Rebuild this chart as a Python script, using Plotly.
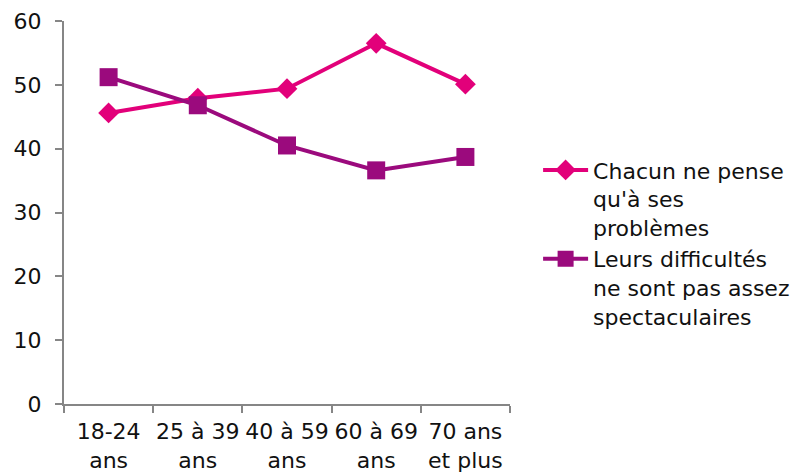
import plotly.graph_objects as go

categories = ["18-24<br>ans", "25 à 39<br>ans", "40 à 59<br>ans", "60 à 69<br>ans", "70 ans<br>et plus"]
chacun_values = [45.6, 47.9, 49.4, 56.5, 50.1]
difficultes_values = [51.2, 46.8, 40.5, 36.6, 38.7]

name_chacun = "Chacun ne pense<br>qu'à ses<br>problèmes"
name_difficultes = "Leurs difficultés<br>ne sont pas assez<br>spectaculaires"

pink = "#E2007A"
purple = "#9B0A7D"
axis_grey = "#868686"

fig = go.Figure()
fig.add_trace(go.Scatter(
    x=categories,
    y=chacun_values,
    name=name_chacun,
    mode="lines+markers",
    line=dict(color=pink, width=4),
    marker=dict(symbol="diamond", size=16, color=pink)
))
fig.add_trace(go.Scatter(
    x=categories,
    y=difficultes_values,
    name=name_difficultes,
    mode="lines+markers",
    line=dict(color=purple, width=4),
    marker=dict(symbol="square", size=18, color=purple)
))

# page body adds an 8px offset, margins are set relative to that
fig.update_layout(
    width=803, height=474,
    margin=dict(l=56, r=301, t=13, b=78, autoexpand=False),
    paper_bgcolor="white", plot_bgcolor="white",
    font=dict(family="DejaVu Sans", size=22, color="#111111"),
    legend=dict(
        x=1.063, y=0.42, xanchor="left", yanchor="middle",
        font=dict(size=22), tracegroupgap=25, itemwidth=45, valign="top",
    ),
    xaxis=dict(
        type="category", range=[-0.5, 4.5], automargin=False,
        showline=True, linecolor=axis_grey, linewidth=2,
        ticks="outside", tickson="boundaries", ticklen=7, tickcolor=axis_grey, tickwidth=2,
        showgrid=False, tickangle=0, ticklabelstandoff=7,
    ),
    yaxis=dict(
        range=[0, 60], dtick=10, automargin=False,
        showline=True, linecolor=axis_grey, linewidth=2,
        ticks="outside", ticklen=7, tickcolor=axis_grey, tickwidth=2,
        showgrid=False, zeroline=False, ticklabelstandoff=9,
    ),
)

fig.write_html("out.html")
